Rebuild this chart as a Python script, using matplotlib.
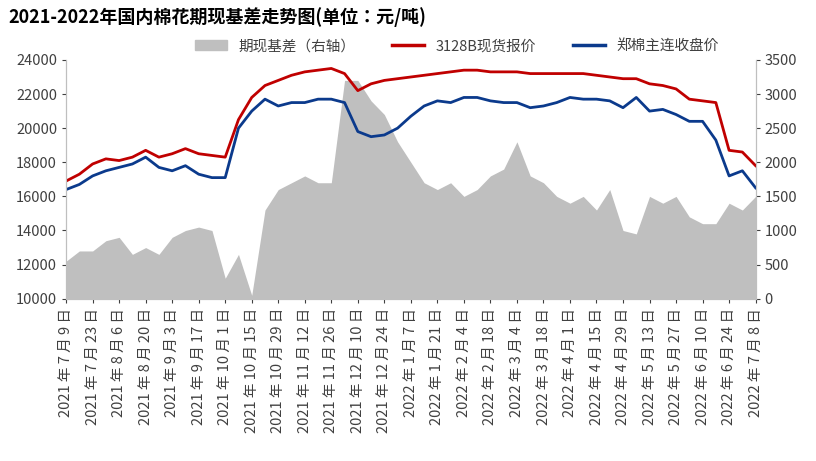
import numpy as np
import pandas as pd
import matplotlib
matplotlib.use("Agg")
import matplotlib.pyplot as plt
from matplotlib import font_manager
from matplotlib.patches import Patch
from matplotlib.lines import Line2D

names = {f.name for f in font_manager.fontManager.ttflist}
cjk = [n for n in ["Noto Sans CJK SC", "Noto Sans CJK JP", "Noto Sans CJK TC", "Noto Sans CJK KR"] if n in names]
plt.rcParams["font.family"] = cjk + ["DejaVu Sans"]

dates = pd.date_range("2021-07-09", "2022-07-08", freq="7D")

spot = [16900, 17300, 17900, 18200, 18100, 18300, 18700, 18300, 18500, 18800, 18500, 18400, 18300,
        20500, 21800, 22500, 22800, 23100, 23300, 23400, 23500, 23200, 22200, 22600, 22800, 22900,
        23000, 23100, 23200, 23300, 23400, 23400, 23300, 23300, 23300, 23200, 23200, 23200, 23200,
        23200, 23100, 23000, 22900, 22900, 22600, 22500, 22300, 21700, 21600, 21500, 18700, 18600, 17800]
futures = [16400, 16700, 17200, 17500, 17700, 17900, 18300, 17700, 17500, 17800, 17300, 17100, 17100,
           20000, 21000, 21700, 21300, 21500, 21500, 21700, 21700, 21500, 19800, 19500, 19600, 20000,
           20700, 21300, 21600, 21500, 21800, 21800, 21600, 21500, 21500, 21200, 21300, 21500, 21800,
           21700, 21700, 21600, 21200, 21800, 21000, 21100, 20800, 20400, 20400, 19300, 17200, 17500, 16500]
basis = [550, 700, 700, 850, 900, 650, 750, 650, 900, 1000, 1050, 1000, 300,
         650, 50, 1300, 1600, 1700, 1800, 1700, 1700, 3200, 3200, 2900, 2700, 2300,
         2000, 1700, 1600, 1700, 1500, 1600, 1800, 1900, 2300, 1800, 1700, 1500, 1400,
         1500, 1300, 1600, 1000, 950, 1500, 1400, 1500, 1200, 1100, 1100, 1400, 1300, 1500]

fig = plt.figure(figsize=(8.16, 4.61), dpi=100)
ax = fig.add_axes([0.081, 0.352, 0.845, 0.518])
ax2 = ax.twinx()
ax.set_zorder(2)
ax.patch.set_visible(False)

ax2.fill_between(dates, basis, 0, color="#bfbfbf", linewidth=0)
ax2.set_ylim(0, 3500)
ax2.set_yticks(range(0, 3501, 500))

ax.plot(dates, spot, color="#c00000", lw=2)
ax.plot(dates, futures, color="#0b3a8c", lw=2)
ax.set_ylim(10000, 24000)
ax.set_yticks(range(10000, 24001, 2000))
ax.set_xlim(dates[0], dates[-1])

ticks = pd.date_range("2021-07-09", "2022-07-08", freq="14D")
ax.set_xticks(ticks)
ax.set_xticklabels([f"{d.year} 年 {d.month} 月 {d.day} 日" for d in ticks], rotation=90, fontsize=10.5, color="#404040")
for a in (ax, ax2):
    a.tick_params(labelsize=10.5, colors="#404040", length=3)
    for s in a.spines.values():
        s.set_color("#bfbfbf")
    a.spines["top"].set_visible(False)

fig.text(0.01, 0.962, "2021-2022年国内棉花期现基差走势图(单位：元/吨)", fontsize=13, fontweight="bold", va="center")
handles = [Patch(color="#bfbfbf", label="期现基差（右轴）"),
           Line2D([], [], color="#c00000", lw=2.5, label="3128B现货报价"),
           Line2D([], [], color="#0b3a8c", lw=2.5, label="郑棉主连收盘价")]
fig.legend(handles=handles, loc="center", bbox_to_anchor=(0.56, 0.9), ncol=3, frameon=False,
           fontsize=10.5, handlelength=2.2, columnspacing=2.5, labelcolor="#404040")

fig.savefig("out.png", dpi=100)
